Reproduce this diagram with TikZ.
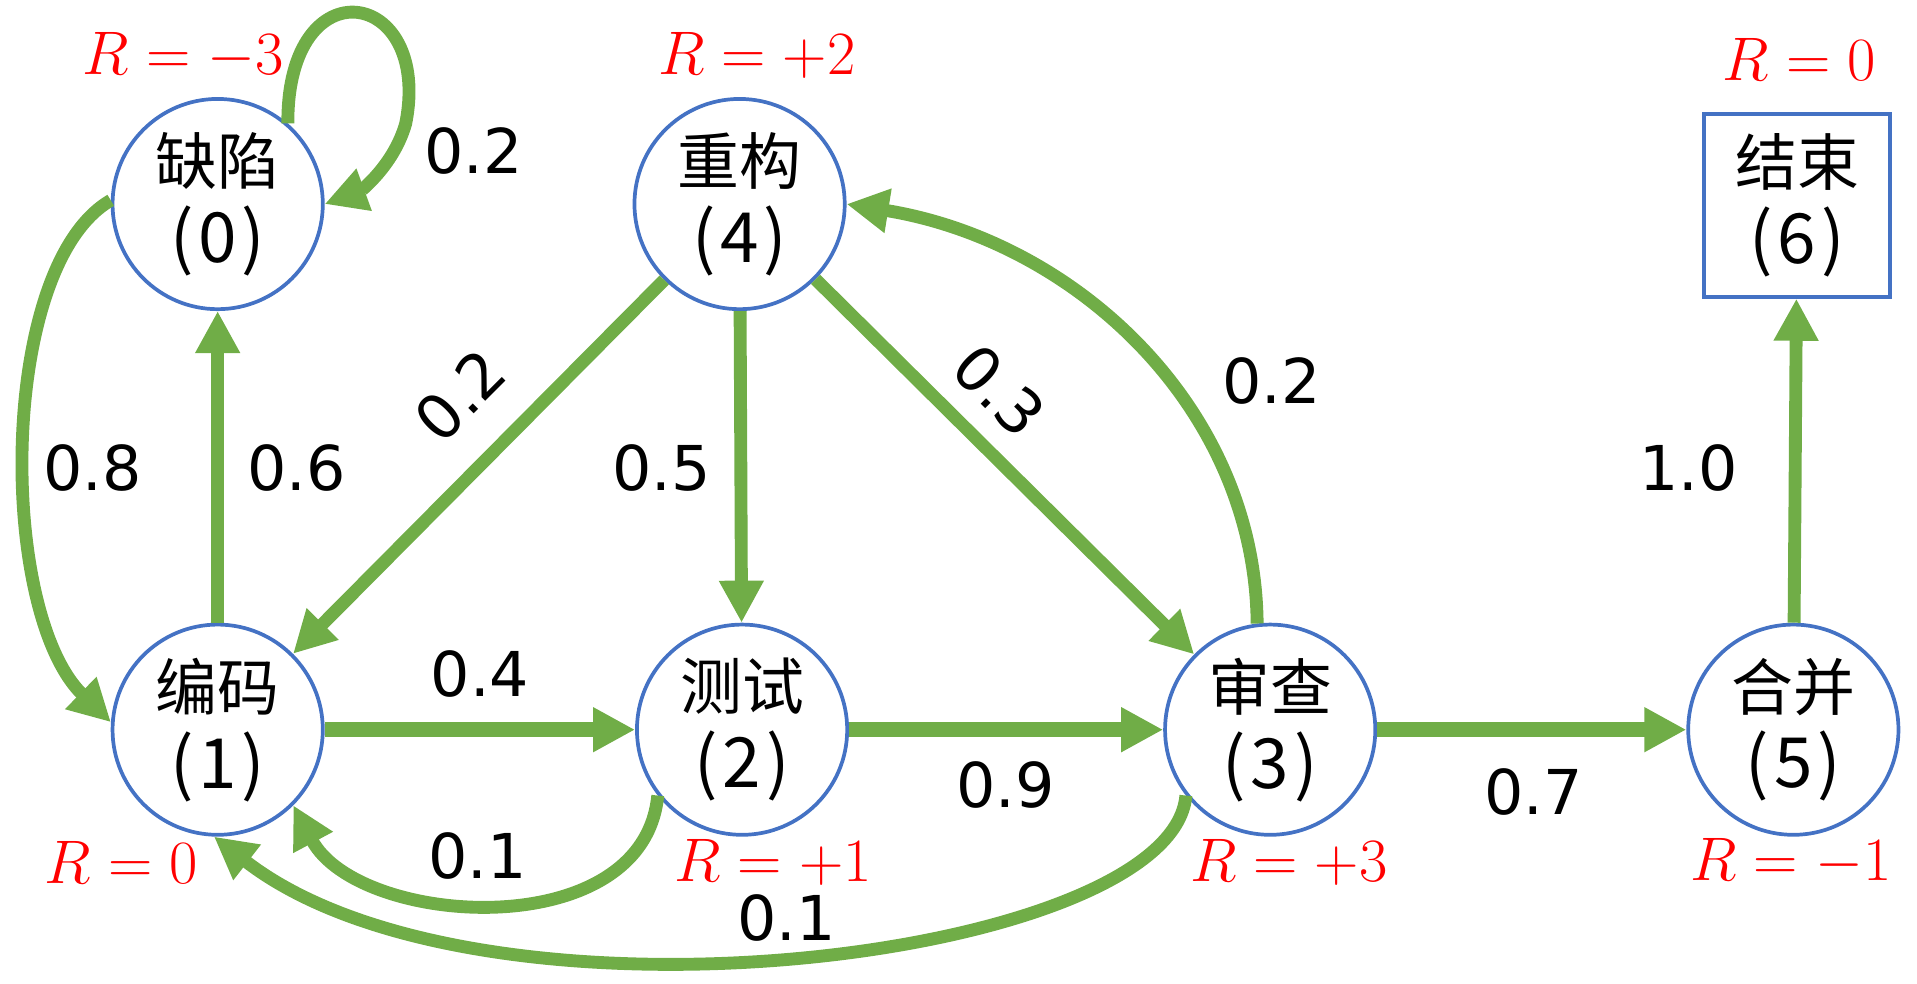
\documentclass[tikz,border=0pt]{standalone}
\usepackage{fontspec}
\usetikzlibrary{arrows.meta}
\newfontfamily\cjk{Noto Sans CJK SC}
\newfontfamily\lab{DejaVu Sans}
\definecolor{eg}{HTML}{70AD47}
\definecolor{nb}{HTML}{4472C4}
\newcommand{\idx}[1]{{\fontsize{28}{31.5}\selectfont(\hspace{2pt}#1\hspace{2pt})}}
\begin{document}
\begin{tikzpicture}[x=0.5pt,y=-0.5pt]
\tikzset{
  state/.style={circle, draw=nb, line width=1.5pt, minimum size=85pt, inner sep=0pt,
    align=center, font=\cjk\fontsize{25}{31.5}\selectfont},
  endbox/.style={rectangle, draw=nb, line width=1.5pt, minimum width=75pt, minimum height=74pt,
    inner sep=0pt, align=center, font=\cjk\fontsize{25}{31.5}\selectfont},
  edge/.style={draw=eg, line width=5.2pt, -{Triangle[length=17pt,width=17pt]}},
  hedge/.style={draw=eg, line width=6pt, -{Triangle[length=17pt,width=17pt]}},
  plab/.style={inner sep=0pt, font=\lab\fontsize{25}{28}\selectfont},
  rlab/.style={inner sep=0pt, text=red, font=\fontsize{25.5}{30}\selectfont}
}
\useasboundingbox (0,0) rectangle (1550,795);
% nodes
\node[state] (n0) at (176,165) {缺陷\\\idx{0}};
\node[state] (n4) at (598,165) {重构\\\idx{4}};
\node[state] (n1) at (176,590) {编码\\\idx{1}};
\node[state] (n2) at (600,590) {测试\\\idx{2}};
\node[state] (n3) at (1027,590) {审查\\\idx{3}};
\node[state] (n5) at (1450,590) {合并\\\idx{5}};
\node[endbox] (n6) at (1453,166) {结束\\\idx{6}};
% edges
\draw[edge] (n0.49) .. controls (232,-30) and (350,-10) .. (328,100)
            .. controls (318,135) and (290,155) .. (n0.east);
\draw[edge] (n0.178) .. controls (-2,215) and (-2,495) .. (n1.176);
\draw[edge] (n1) -- (n0);
\draw[edge] (n4) -- (n1);
\draw[edge] (n4) -- (n2);
\draw[edge] (n4) -- (n3);
\draw[edge] (n3.97) .. controls (1015,330) and (870,195) .. (n4.east);
\draw[hedge] (n1) -- (n2);
\draw[hedge] (n2) -- (n3);
\draw[hedge] (n3) -- (n5);
\draw[edge] (n5) -- (n6);
\draw[edge] (n2.218) .. controls (520,765) and (290,750) .. (n1.-45);
\draw[edge] (n3.218) .. controls (948,775) and (390,845) .. (n1.-92);
% probability labels
\node[plab] (p00) at (383,122) {0.2};
\node[plab] (p01) at (75,378) {0.8};
\node[plab] (p10) at (240,378) {0.6};
\node[plab, rotate=45] (p41) at (372,320) {0.2};
\node[plab] (p42) at (535,378) {0.5};
\node[plab, rotate=-45] (p43) at (808,316) {0.3};
\node[plab] (p34) at (1028,308) {0.2};
\node[plab] (p56) at (1365,378) {1.0};
\node[plab] (p12) at (388,545) {0.4};
\node[plab] (p23) at (813,635) {0.9};
\node[plab] (p35) at (1240,640) {0.7};
\node[plab] (p21) at (386,692) {0.1};
\node[plab] (p31) at (636,742) {0.1};
% reward labels
\node[rlab] (r0) at (148,45) {$R=-3$};
\node[rlab] (r4) at (612,45) {$R=+2$};
\node[rlab] (r6) at (1455,48) {$R=0$};
\node[rlab] (r1) at (98,697) {$R=0$};
\node[rlab] (r2) at (625,697) {$R=+1$};
\node[rlab] (r3) at (1042,697) {$R=+3$};
\node[rlab] (r5) at (1448,697) {$R=-1$};
\end{tikzpicture}
\end{document}
